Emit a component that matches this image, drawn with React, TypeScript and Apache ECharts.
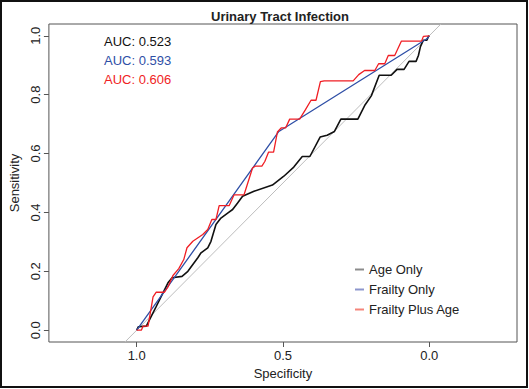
import React, { useEffect, useRef } from "react";
import * as echarts from "echarts";

const chartTitle = "Urinary Tract Infection";
const xTicks = [1.0, 0.5, 0.0];
const yTicks = [0, 0.2, 0.4, 0.6, 0.8, 1.0];
const seriesNames = ["Age Only", "Frailty Only", "Frailty Plus Age"];
const aucLabels = ["AUC: 0.523", "AUC: 0.593", "AUC: 0.606"];
const seriesColors = ["#111111", "#2f4fa6", "#f01e24"];
const legendColors = ["#8c8c8c", "#8d96cc", "#f4857a"];

// Age Only ROC
const ageSpec = [1.0, 0.994, 0.967, 0.933, 0.916, 0.893, 0.879, 0.845, 0.825, 0.791, 0.78, 0.757, 0.746, 0.729, 0.712, 0.689, 0.672, 0.655, 0.638, 0.599, 0.536, 0.497, 0.463, 0.434, 0.408, 0.373, 0.349, 0.324, 0.302, 0.244, 0.219, 0.198, 0.171, 0.13, 0.11, 0.086, 0.069, 0.045, 0.037, 0.03, 0.02, 0.008, 0.003, 0.0];
const ageSens = [0.0, 0.012, 0.014, 0.081, 0.115, 0.161, 0.178, 0.183, 0.2, 0.246, 0.263, 0.28, 0.302, 0.359, 0.381, 0.398, 0.41, 0.432, 0.455, 0.472, 0.493, 0.523, 0.554, 0.59, 0.59, 0.656, 0.662, 0.675, 0.717, 0.717, 0.766, 0.796, 0.866, 0.866, 0.886, 0.886, 0.913, 0.913, 0.933, 0.963, 0.985, 0.985, 0.997, 1.0];

// Frailty Only ROC
const frailtySpec = [1.0, 0.514, 0.008, 0.0];
const frailtySens = [0.0, 0.675, 0.99, 1.0];

// Frailty Plus Age ROC
const comboSpec = [1.0, 0.984, 0.978, 0.961, 0.944, 0.933, 0.905, 0.893, 0.876, 0.856, 0.839, 0.828, 0.808, 0.774, 0.757, 0.743, 0.729, 0.718, 0.684, 0.667, 0.633, 0.604, 0.595, 0.572, 0.562, 0.549, 0.532, 0.519, 0.506, 0.491, 0.477, 0.443, 0.423, 0.404, 0.387, 0.372, 0.359, 0.26, 0.241, 0.221, 0.186, 0.173, 0.152, 0.14, 0.118, 0.095, 0.026, 0.02, 0.0];
const comboSens = [0.0, 0.0, 0.014, 0.014, 0.113, 0.129, 0.129, 0.147, 0.186, 0.209, 0.24, 0.28, 0.302, 0.325, 0.342, 0.376, 0.376, 0.423, 0.423, 0.46, 0.46, 0.551, 0.557, 0.557, 0.573, 0.605, 0.605, 0.673, 0.687, 0.687, 0.717, 0.717, 0.749, 0.781, 0.781, 0.844, 0.847, 0.847, 0.868, 0.882, 0.882, 0.905, 0.905, 0.933, 0.933, 0.982, 0.982, 0.998, 1.0];

// Chance diagonal
const diagSpec = [1.04, -0.04];
const diagSens = [-0.04, 1.04];

const zip = (a: number[], b: number[]) => a.map((v, i) => [v, b[i]]);
const FONT = '"Liberation Sans", Arial, Helvetica, sans-serif';

export default function App() {
  const ref = useRef<HTMLDivElement>(null);
  useEffect(() => {
    if (!ref.current) return;
    const chart = echarts.init(ref.current, undefined, { renderer: "svg" });
    const axisText = { fontSize: 13, color: "#222", fontFamily: FONT };
    const option: any = {
      animation: false,
      backgroundColor: "#ffffff",
      textStyle: { fontFamily: FONT },
      grid: {
        left: 47,
        top: 24,
        width: 470,
        height: 318,
        show: true,
        borderColor: "#555555",
        borderWidth: 1,
        backgroundColor: "transparent",
      },
      xAxis: {
        type: "value",
        inverse: true,
        min: -0.3,
        max: 1.3,
        position: "bottom",
        splitLine: { show: false },
        axisLine: { show: false, onZero: false },
        axisTick: { show: true, customValues: xTicks, length: 5, lineStyle: { color: "#555555" } },
        axisLabel: { ...axisText, customValues: xTicks, margin: 7, formatter: (v: number) => v.toFixed(1) },
        name: "Specificity",
        nameLocation: "middle",
        nameGap: 23,
        nameTextStyle: axisText,
      },
      yAxis: {
        type: "value",
        min: -0.04,
        max: 1.04,
        position: "left",
        splitLine: { show: false },
        axisLine: { show: false, onZero: false },
        axisTick: { show: true, customValues: yTicks, length: 5, lineStyle: { color: "#555555" } },
        axisLabel: { ...axisText, customValues: yTicks, rotate: 90, margin: 7, formatter: (v: number) => v.toFixed(1) },
        name: "Sensitivity",
        nameLocation: "middle",
        nameGap: 24,
        nameTextStyle: axisText,
      },
      legend: {
        orient: "vertical",
        left: 355,
        top: 263,
        padding: 0,
        itemWidth: 9,
        itemHeight: 2,
        itemGap: 7,
        icon: "rect",
        textStyle: { fontSize: 13, color: "#222", fontFamily: FONT },
        data: seriesNames.map((n, i) => ({ name: n, itemStyle: { color: legendColors[i] } })),
      },
      series: [
        {
          name: "diag",
          type: "line",
          data: zip(diagSpec, diagSens),
          symbol: "none",
          silent: true,
          lineStyle: { color: "#bdbdbd", width: 1 },
          z: 1,
        },
        {
          name: seriesNames[0],
          type: "line",
          data: zip(ageSpec, ageSens),
          symbol: "none",
          color: seriesColors[0],
          lineStyle: { color: seriesColors[0], width: 1.6 },
          z: 2,
        },
        {
          name: seriesNames[1],
          type: "line",
          data: zip(frailtySpec, frailtySens),
          symbol: "none",
          color: seriesColors[1],
          lineStyle: { color: seriesColors[1], width: 1.3 },
          z: 3,
        },
        {
          name: seriesNames[2],
          type: "line",
          data: zip(comboSpec, comboSens),
          symbol: "none",
          color: seriesColors[2],
          lineStyle: { color: seriesColors[2], width: 1.3 },
          z: 4,
        },
      ],
      graphic: [
        {
          type: "rect",
          shape: { x: 1, y: 1, width: 526, height: 386 },
          style: { fill: "none", stroke: "#111", lineWidth: 2 },
          silent: true,
        },
        {
          type: "text",
          x: 280,
          y: 16,
          style: { text: chartTitle, font: `bold 13px ${FONT}`, fill: "#222", align: "center", verticalAlign: "middle" },
        },
        ...aucLabels.map((t, i) => ({
          type: "text",
          x: 104,
          y: 41.3 + i * 19.3,
          style: { text: t, font: `13px ${FONT}`, fill: seriesColors[i], align: "left", verticalAlign: "middle" },
        })),
      ],
    };
    chart.setOption(option);
    return () => chart.dispose();
  }, []);
  return (
    <div
      ref={ref}
      style={{ position: "fixed", left: 0, top: 0, width: 529, height: 389, background: "#fff" }}
    />
  );
}
